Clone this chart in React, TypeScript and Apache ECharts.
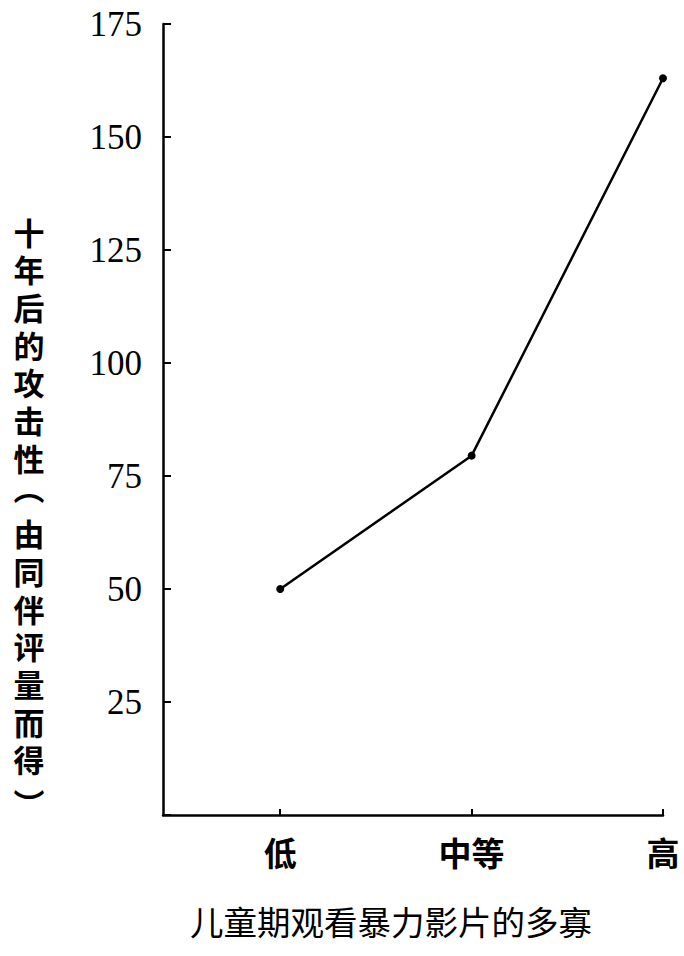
import React, { useEffect, useRef } from "react";
import * as echarts from "echarts";

const categories = ["低", "中等", "高"];
const categoryPositions = [1, 2, 3];
const aggressionValues = [50, 79.5, 163];
const yAxisTitle = "十年后的攻击性︵由同伴评量而得︶";
const xAxisTitle = "儿童期观看暴力影片的多寡";

export default function App() {
  const ref = useRef<HTMLDivElement>(null);
  useEffect(() => {
    if (!ref.current) return;
    const chart = echarts.init(ref.current, undefined, { renderer: "svg" });
    const chars = Array.from(yAxisTitle);
    const titleChars = chars.map((c, i) => {
      const shift = c === "︵" ? -8 : c === "︶" ? 6 : 0;
      return {
        type: "text",
        x: 29,
        y: 231 + i * 37.7 + shift,
        style: {
          text: c,
          fontFamily: "Noto Sans CJK SC",
          fontWeight: "bold",
          fontSize: 31,
          lineHeight: 31,
          fill: "#000",
          align: "center",
          verticalAlign: "middle",
        },
      };
    });
    chart.setOption({
      animation: false,
      backgroundColor: "#ffffff",
      grid: { left: 163, right: 21, top: 24, bottom: 141, containLabel: false },
      xAxis: {
        type: "value",
        min: 0.3874,
        max: 3,
        splitLine: { show: false },
        axisLine: { show: true, lineStyle: { color: "#000", width: 2.5 } },
        axisTick: {
          show: true,
          inside: true,
          length: 6,
          lineStyle: { color: "#000", width: 2 },
          customValues: categoryPositions,
        },
        axisLabel: {
          customValues: categoryPositions,
          formatter: (v: number) => categories[categoryPositions.indexOf(Math.round(v))] ?? "",
          fontFamily: "Noto Sans CJK SC",
          fontWeight: "bold",
          fontSize: 33,
          color: "#000",
          margin: 20,
        },
      },
      yAxis: {
        type: "value",
        min: 0,
        max: 175,
        interval: 25,
        splitLine: { show: false },
        axisLine: { show: true, lineStyle: { color: "#000", width: 2.5 } },
        axisTick: { show: true, inside: true, length: 8, lineStyle: { color: "#000", width: 2 } },
        axisLabel: {
          formatter: (v: number) => (v === 0 ? "" : String(v)),
          fontFamily: "Liberation Serif",
          fontSize: 35,
          color: "#000",
          margin: 21,
        },
      },
      graphic: [
        ...titleChars,
        {
          type: "text",
          x: 391,
          y: 920,
          style: {
            text: xAxisTitle,
            fontFamily: "Noto Sans CJK SC",
            fontWeight: "normal",
            fontSize: 33.5,
            fill: "#000",
            align: "center",
            verticalAlign: "middle",
          },
        },
      ],
      series: [
        {
          type: "line",
          data: categoryPositions.map((x, i) => [x, aggressionValues[i]]),
          symbol: "circle",
          symbolSize: 8,
          lineStyle: { color: "#000", width: 2.5 },
          itemStyle: { color: "#000" },
        },
      ],
    });
    return () => chart.dispose();
  }, []);
  return (
    <div
      ref={ref}
      style={{ position: "fixed", left: 0, top: 0, width: 684, height: 956, background: "#fff" }}
    />
  );
}
